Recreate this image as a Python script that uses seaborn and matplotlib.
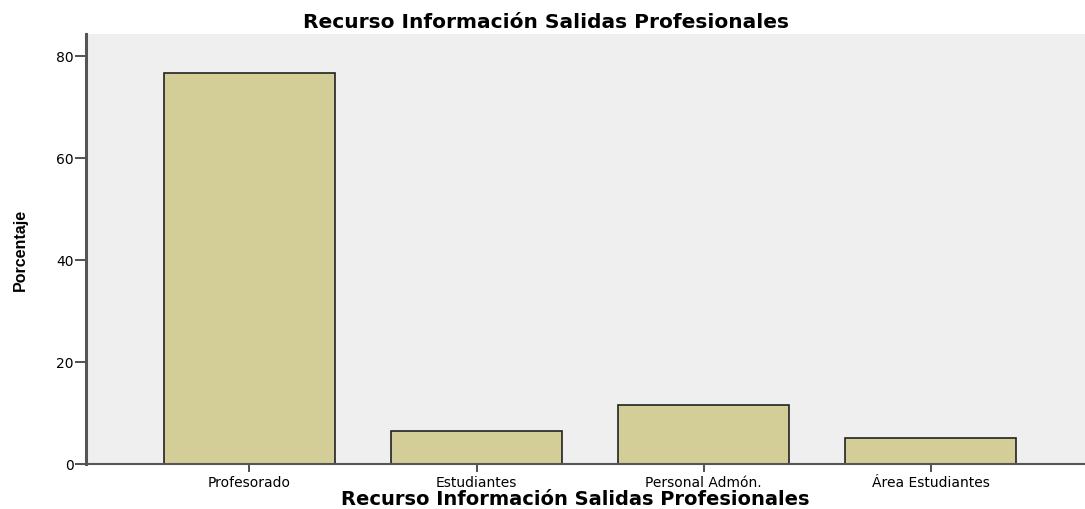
import pandas as pd
import matplotlib.pyplot as plt
import seaborn as sns

# Datos
categorias = ["Profesorado", "Estudiantes", "Personal Admón.", "Área Estudiantes"]
porcentajes = [76.7, 6.4, 11.6, 5.1]
ticks_y = [0, 20, 40, 60, 80]

df = pd.DataFrame({"Recurso": categorias, "Porcentaje": porcentajes})

sns.set_style("white")
plt.rcParams['font.family'] = ['DejaVu Sans']
plt.rcParams['text.color'] = 'black'

fig = plt.figure(figsize=(10.85, 5.1), dpi=100)
ax = fig.add_axes([86 / 1085, 45 / 510, 999 / 1085, 430 / 510])
ax.set_facecolor("#EFEFEF")

sns.barplot(data=df, x="Recurso", y="Porcentaje", color="#D3CE98",
            width=0.75, edgecolor="#222222", linewidth=1.2, saturation=1, ax=ax)

ax.set_xlim(-0.72, 3.68)
ax.set_ylim(0, 84.3)
ax.set_yticks(ticks_y)
ax.tick_params(axis="both", direction="out", width=1.2, color="#333333",
               labelsize=10, labelcolor="black", bottom=True, left=True)
ax.tick_params(axis="y", pad=1, length=8)
ax.tick_params(axis="x", pad=2, length=6)

for s in ["top", "right"]:
    ax.spines[s].set_visible(False)
ax.spines["left"].set_color("#555555")
ax.spines["left"].set_linewidth(2.2)
ax.spines["bottom"].set_color("#555555")
ax.spines["bottom"].set_linewidth(1.5)

ax.set_title("Recurso Información Salidas Profesionales", fontsize=14.5,
             fontweight="bold", pad=5, color="black", x=0.46)
ax.set_xlabel("Recurso Información Salidas Profesionales", fontsize=14,
              fontweight="bold", labelpad=0, color="black")
ax.xaxis.label.set_x(0.49)
ax.set_ylabel("Porcentaje", fontsize=11.5, fontweight="bold", labelpad=20,
              color="black", family=["Liberation Sans", "DejaVu Sans"])

fig.savefig("out.png", dpi=100)
